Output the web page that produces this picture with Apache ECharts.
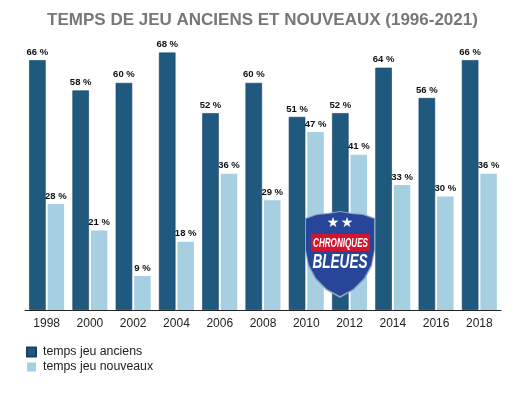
<!DOCTYPE html>
<html>
<head>
<meta charset="utf-8">
<script src="https://cdn.jsdelivr.net/npm/echarts@6/dist/echarts.min.js"></script>
<style>
html, body { margin: 0; padding: 0; background: #fff; }
#chart { width: 520px; height: 393px; }
</style>
</head>
<body>
<div id="chart"></div>
<script>
var years = ['1998', '2000', '2002', '2004', '2006', '2008', '2010', '2012', '2014', '2016', '2018'];
var anciens = [66, 58, 60, 68, 52, 60, 51, 52, 64, 56, 66];
var nouveaux = [28, 21, 9, 18, 36, 29, 47, 41, 33, 30, 36];

var fontName = '"Liberation Sans", Arial, sans-serif';

var myChart = echarts.init(document.getElementById('chart'));

// logo, au dessus des barres 2010 / 2012
var shieldOuter = [[340, 211], [352, 213], [364, 214], [375, 218], [375, 250], [372, 266], [365, 279], [354, 290], [340, 298], [326, 290], [315, 279], [308, 266], [305, 250], [305, 218], [316, 214], [328, 213]];
var shieldInner = [[340, 212], [352, 214], [363, 215], [374, 219], [374, 250], [371, 265], [364, 278], [353, 289], [340, 296], [327, 289], [316, 278], [309, 265], [306, 250], [306, 219], [317, 215], [328, 214]];

var option = {
    backgroundColor: '#fff',
    animation: false,
    title: {
        text: 'TEMPS DE JEU ANCIENS ET NOUVEAUX (1996-2021)',
        left: 257.5,
        top: 7,
        textAlign: 'center',
        textStyle: {
            color: '#77777a',
            fontFamily: fontName,
            fontWeight: 'bold',
            fontSize: 17
        }
    },
    legend: {
        orient: 'vertical',
        left: 26,
        top: 346,
        padding: 0,
        itemWidth: 9,
        itemHeight: 9,
        itemGap: 3,
        icon: 'rect',
        textStyle: {
            color: '#222',
            fontFamily: fontName,
            fontSize: 12.3,
            padding: [0, 0, 0, 2]
        },
        data: ['temps jeu anciens', 'temps jeu nouveaux']
    },
    grid: {
        left: 25,
        right: 19,
        top: 45,
        bottom: 83
    },
    xAxis: {
        type: 'category',
        data: years,
        axisLine: { lineStyle: { color: '#222', width: 1 } },
        axisTick: { show: false },
        axisLabel: {
            interval: 0,
            color: '#222',
            fontFamily: fontName,
            fontSize: 12,
            margin: 8
        }
    },
    yAxis: {
        type: 'value',
        min: 0,
        max: 70,
        show: false
    },
    series: [
        {
            name: 'temps jeu anciens',
            type: 'bar',
            data: anciens,
            barWidth: 16.5,
            barGap: '12%',
            itemStyle: { color: '#1f5a7e', borderColor: '#15406a', borderWidth: 0.6 },
            label: {
                show: true,
                position: 'top',
                distance: 3,
                formatter: '{c} %',
                color: '#111',
                fontFamily: fontName,
                fontSize: 9.5,
                fontWeight: 'bold'
            }
        },
        {
            name: 'temps jeu nouveaux',
            type: 'bar',
            data: nouveaux,
            barWidth: 16.5,
            itemStyle: { color: '#a6cfe1' },
            label: {
                show: true,
                position: 'top',
                distance: 3,
                formatter: '{c} %',
                color: '#111',
                fontFamily: fontName,
                fontSize: 9.5,
                fontWeight: 'bold'
            }
        }
    ],
    graphic: [
        { type: 'polygon', z: 100, shape: { points: shieldOuter }, style: { fill: '#8fa3c4' } },
        { type: 'polygon', z: 101, shape: { points: shieldInner }, style: { fill: '#27469a' } },
        { type: 'rect', z: 102, shape: { x: 311, y: 234, width: 59, height: 17 }, style: { fill: '#d3152f' } },
        { type: 'text', z: 103, x: 333, y: 223, style: { text: '★', fill: '#fff', fontSize: 14, fontFamily: 'DejaVu Sans', align: 'center', verticalAlign: 'middle' } },
        { type: 'text', z: 103, x: 347, y: 223, style: { text: '★', fill: '#fff', fontSize: 14, fontFamily: 'DejaVu Sans', align: 'center', verticalAlign: 'middle' } },
        {
            type: 'text', z: 103, x: 340.5, y: 243, scaleX: 0.6,
            style: { text: 'CHRONIQUES', fill: '#fff', fontSize: 13.5, fontStyle: 'italic', fontWeight: 'bold', fontFamily: fontName, align: 'center', verticalAlign: 'middle' }
        },
        {
            type: 'text', z: 103, x: 340, y: 262, scaleX: 0.68,
            style: { text: 'BLEUES', fill: '#fff', fontSize: 20, fontStyle: 'italic', fontWeight: 'bold', fontFamily: fontName, align: 'center', verticalAlign: 'middle' }
        }
    ]
};
myChart.setOption(option);
</script>
</body>
</html>
